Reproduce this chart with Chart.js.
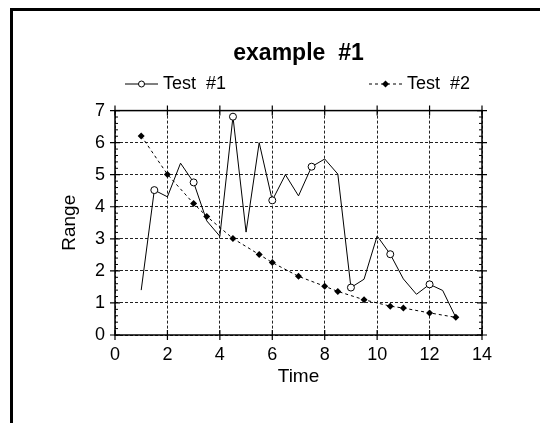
<!DOCTYPE html>
<html>
<head>
<meta charset="utf-8">
<script src="https://cdn.jsdelivr.net/npm/chart.js@4.4.0/dist/chart.umd.min.js"></script>
<style>
  html, body { margin: 0; padding: 0; background: #fff; }
  #page { position: relative; width: 540px; height: 423px; overflow: hidden; }
  #box { position: absolute; left: 10px; top: 8px; width: 600px; height: 500px;
         border-left: 3px solid #000; border-top: 3px solid #000; }
  #wrap { position: absolute; left: 0; top: 0; width: 540px; height: 423px; }
</style>
</head>
<body>
<div id="page">
  <div id="box"></div>
  <div id="wrap"><canvas id="chart"></canvas></div>
</div>
<script>
// data
const time1 = [1, 1.5, 2, 2.5, 3, 3.5, 4, 4.5, 5, 5.5, 6, 6.5, 7, 7.5, 8, 8.5, 9, 9.5, 10, 10.5, 11, 11.5, 12, 12.5, 13];
const test1 = [1.40, 4.52, 4.31, 5.36, 4.76, 3.56, 3.08, 6.81, 3.21, 6.00, 4.20, 5.00, 4.34, 5.25, 5.49, 5.02, 1.48, 1.74, 3.09, 2.52, 1.75, 1.27, 1.58, 1.39, 0.55];

const time2 = [1, 2, 3, 3.5, 4.5, 5.5, 6, 7, 8, 8.5, 9.5, 10.5, 11, 12, 13];
const test2 = [6.21, 5.01, 4.10, 3.70, 3.01, 2.51, 2.26, 1.83, 1.52, 1.36, 1.10, 0.90, 0.84, 0.69, 0.55];

const xTicks = [0, 2, 4, 6, 8, 10, 12, 14];
const yTicks = [0, 1, 2, 3, 4, 5, 6, 7];

const FONT = '"Liberation Sans", Arial, Helvetica, sans-serif';
Chart.defaults.font.family = FONT;
Chart.defaults.color = '#000';

function toPoints(xs, ys) {
  return xs.map((x, i) => ({ x: x, y: ys[i] }));
}

// box round the plot with crossing major ticks and inner minor ticks
const frame = {
  id: 'frame',
  afterDraw(chart) {
    const { ctx, chartArea: a, scales } = chart;
    const x = scales.x, y = scales.y;
    ctx.save();
    ctx.strokeStyle = '#000';
    ctx.setLineDash([]);
    ctx.lineWidth = 1.5;
    ctx.strokeRect(a.left, a.top, a.right - a.left, a.bottom - a.top);
    ctx.lineWidth = 1.2;
    ctx.beginPath();
    x.ticks.forEach(t => {
      const px = x.getPixelForValue(t.value);
      ctx.moveTo(px, a.bottom - 5); ctx.lineTo(px, a.bottom + 5);
      ctx.moveTo(px, a.top - 5); ctx.lineTo(px, a.top + 5);
    });
    y.ticks.forEach(t => {
      const py = y.getPixelForValue(t.value);
      ctx.moveTo(a.left - 5, py); ctx.lineTo(a.left + 5, py);
      ctx.moveTo(a.right - 5, py); ctx.lineTo(a.right + 5, py);
    });
    ctx.stroke();
    ctx.lineWidth = 1;
    ctx.beginPath();
    for (let i = 0; i <= y.max * 5; i++) {
      if (i % 5 === 0) continue;
      const py = y.getPixelForValue(i / 5);
      ctx.moveTo(a.left, py); ctx.lineTo(a.left + 3, py);
      ctx.moveTo(a.right - 3, py); ctx.lineTo(a.right, py);
    }
    ctx.stroke();
    ctx.restore();
  }
};

// legend laid out like the reference: one item at each side
const legendRow = {
  id: 'legendRow',
  afterDraw(chart) {
    const ctx = chart.ctx;
    const spots = [{ x0: 125, x1: 158 }, { x0: 369, x1: 402 }];
    const ly = 84;
    chart.data.datasets.forEach((ds, i) => {
      const s = spots[i];
      const mid = (s.x0 + s.x1) / 2;
      ctx.save();
      ctx.strokeStyle = '#000';
      ctx.lineWidth = 1;
      ctx.setLineDash(ds.borderDash || []);
      ctx.beginPath();
      ctx.moveTo(s.x0, ly); ctx.lineTo(s.x1, ly);
      ctx.stroke();
      ctx.setLineDash([]);
      ctx.beginPath();
      if (ds.pointStyle === 'rectRot') {
        const r = 3.5;
        ctx.moveTo(mid, ly - r); ctx.lineTo(mid + r, ly); ctx.lineTo(mid, ly + r); ctx.lineTo(mid - r, ly);
        ctx.closePath();
        ctx.fillStyle = '#000';
        ctx.fill();
      } else {
        ctx.arc(mid, ly, 3, 0, Math.PI * 2);
        ctx.fillStyle = '#fff';
        ctx.fill();
        ctx.stroke();
      }
      ctx.fillStyle = '#000';
      ctx.font = '18px ' + FONT;
      ctx.textBaseline = 'alphabetic';
      ctx.textAlign = 'left';
      ctx.fillText(ds.label, s.x1 + 5, 89);
      ctx.restore();
    });
  }
};

new Chart(document.getElementById('chart'), {
  type: 'line',
  data: {
    datasets: [
      {
        label: 'Test  #1',
        data: toPoints(time1, test1),
        borderColor: '#000',
        borderWidth: 1,
        tension: 0,
        pointStyle: 'circle',
        pointRadius: c => (c.dataIndex % 3 === 1 ? 3.5 : 0),
        pointBackgroundColor: '#fff',
        pointBorderColor: '#000',
        pointBorderWidth: 1
      },
      {
        label: 'Test  #2',
        data: toPoints(time2, test2),
        borderColor: '#000',
        borderWidth: 1,
        borderDash: [3, 3],
        tension: 0,
        pointStyle: 'rectRot',
        pointRadius: 3.5,
        pointBackgroundColor: '#000',
        pointBorderColor: '#000',
        pointBorderWidth: 0
      }
    ]
  },
  options: {
    responsive: true,
    maintainAspectRatio: false,
    animation: false,
    layout: { padding: { left: 55, right: 58, top: 0, bottom: 34 } },
    scales: {
      x: {
        type: 'linear',
        min: 0,
        max: 14,
        afterBuildTicks: s => { s.ticks = xTicks.map(v => ({ value: v })); },
        afterFit: s => { s.height = 54; },
        ticks: { font: { size: 18 }, color: '#000', padding: 9, maxRotation: 0 },
        grid: { color: '#222', lineWidth: 1, drawTicks: false },
        border: { display: false, dash: [3, 2] },
        title: { display: true, text: 'Time', font: { size: 19 }, color: '#000', padding: { top: 0, bottom: 1 } }
      },
      y: {
        type: 'linear',
        min: 0,
        max: 7,
        afterBuildTicks: s => { s.ticks = yTicks.map(v => ({ value: v })); },
        afterFit: s => { s.width = 60; },
        ticks: { font: { size: 18 }, color: '#000', padding: 10 },
        grid: { color: '#222', lineWidth: 1, drawTicks: false },
        border: { display: false, dash: [3, 2] },
        title: { display: true, text: 'Range', font: { size: 19 }, color: '#000', padding: { top: 3, bottom: 0 } }
      }
    },
    plugins: {
      legend: { display: false },
      tooltip: { enabled: false },
      title: {
        display: true,
        text: 'example  #1',
        fullSize: false,
        font: { size: 23, weight: 'bold' },
        color: '#000',
        padding: { top: 40, bottom: 43 }
      }
    }
  },
  plugins: [frame, legendRow]
});
</script>
</body>
</html>
